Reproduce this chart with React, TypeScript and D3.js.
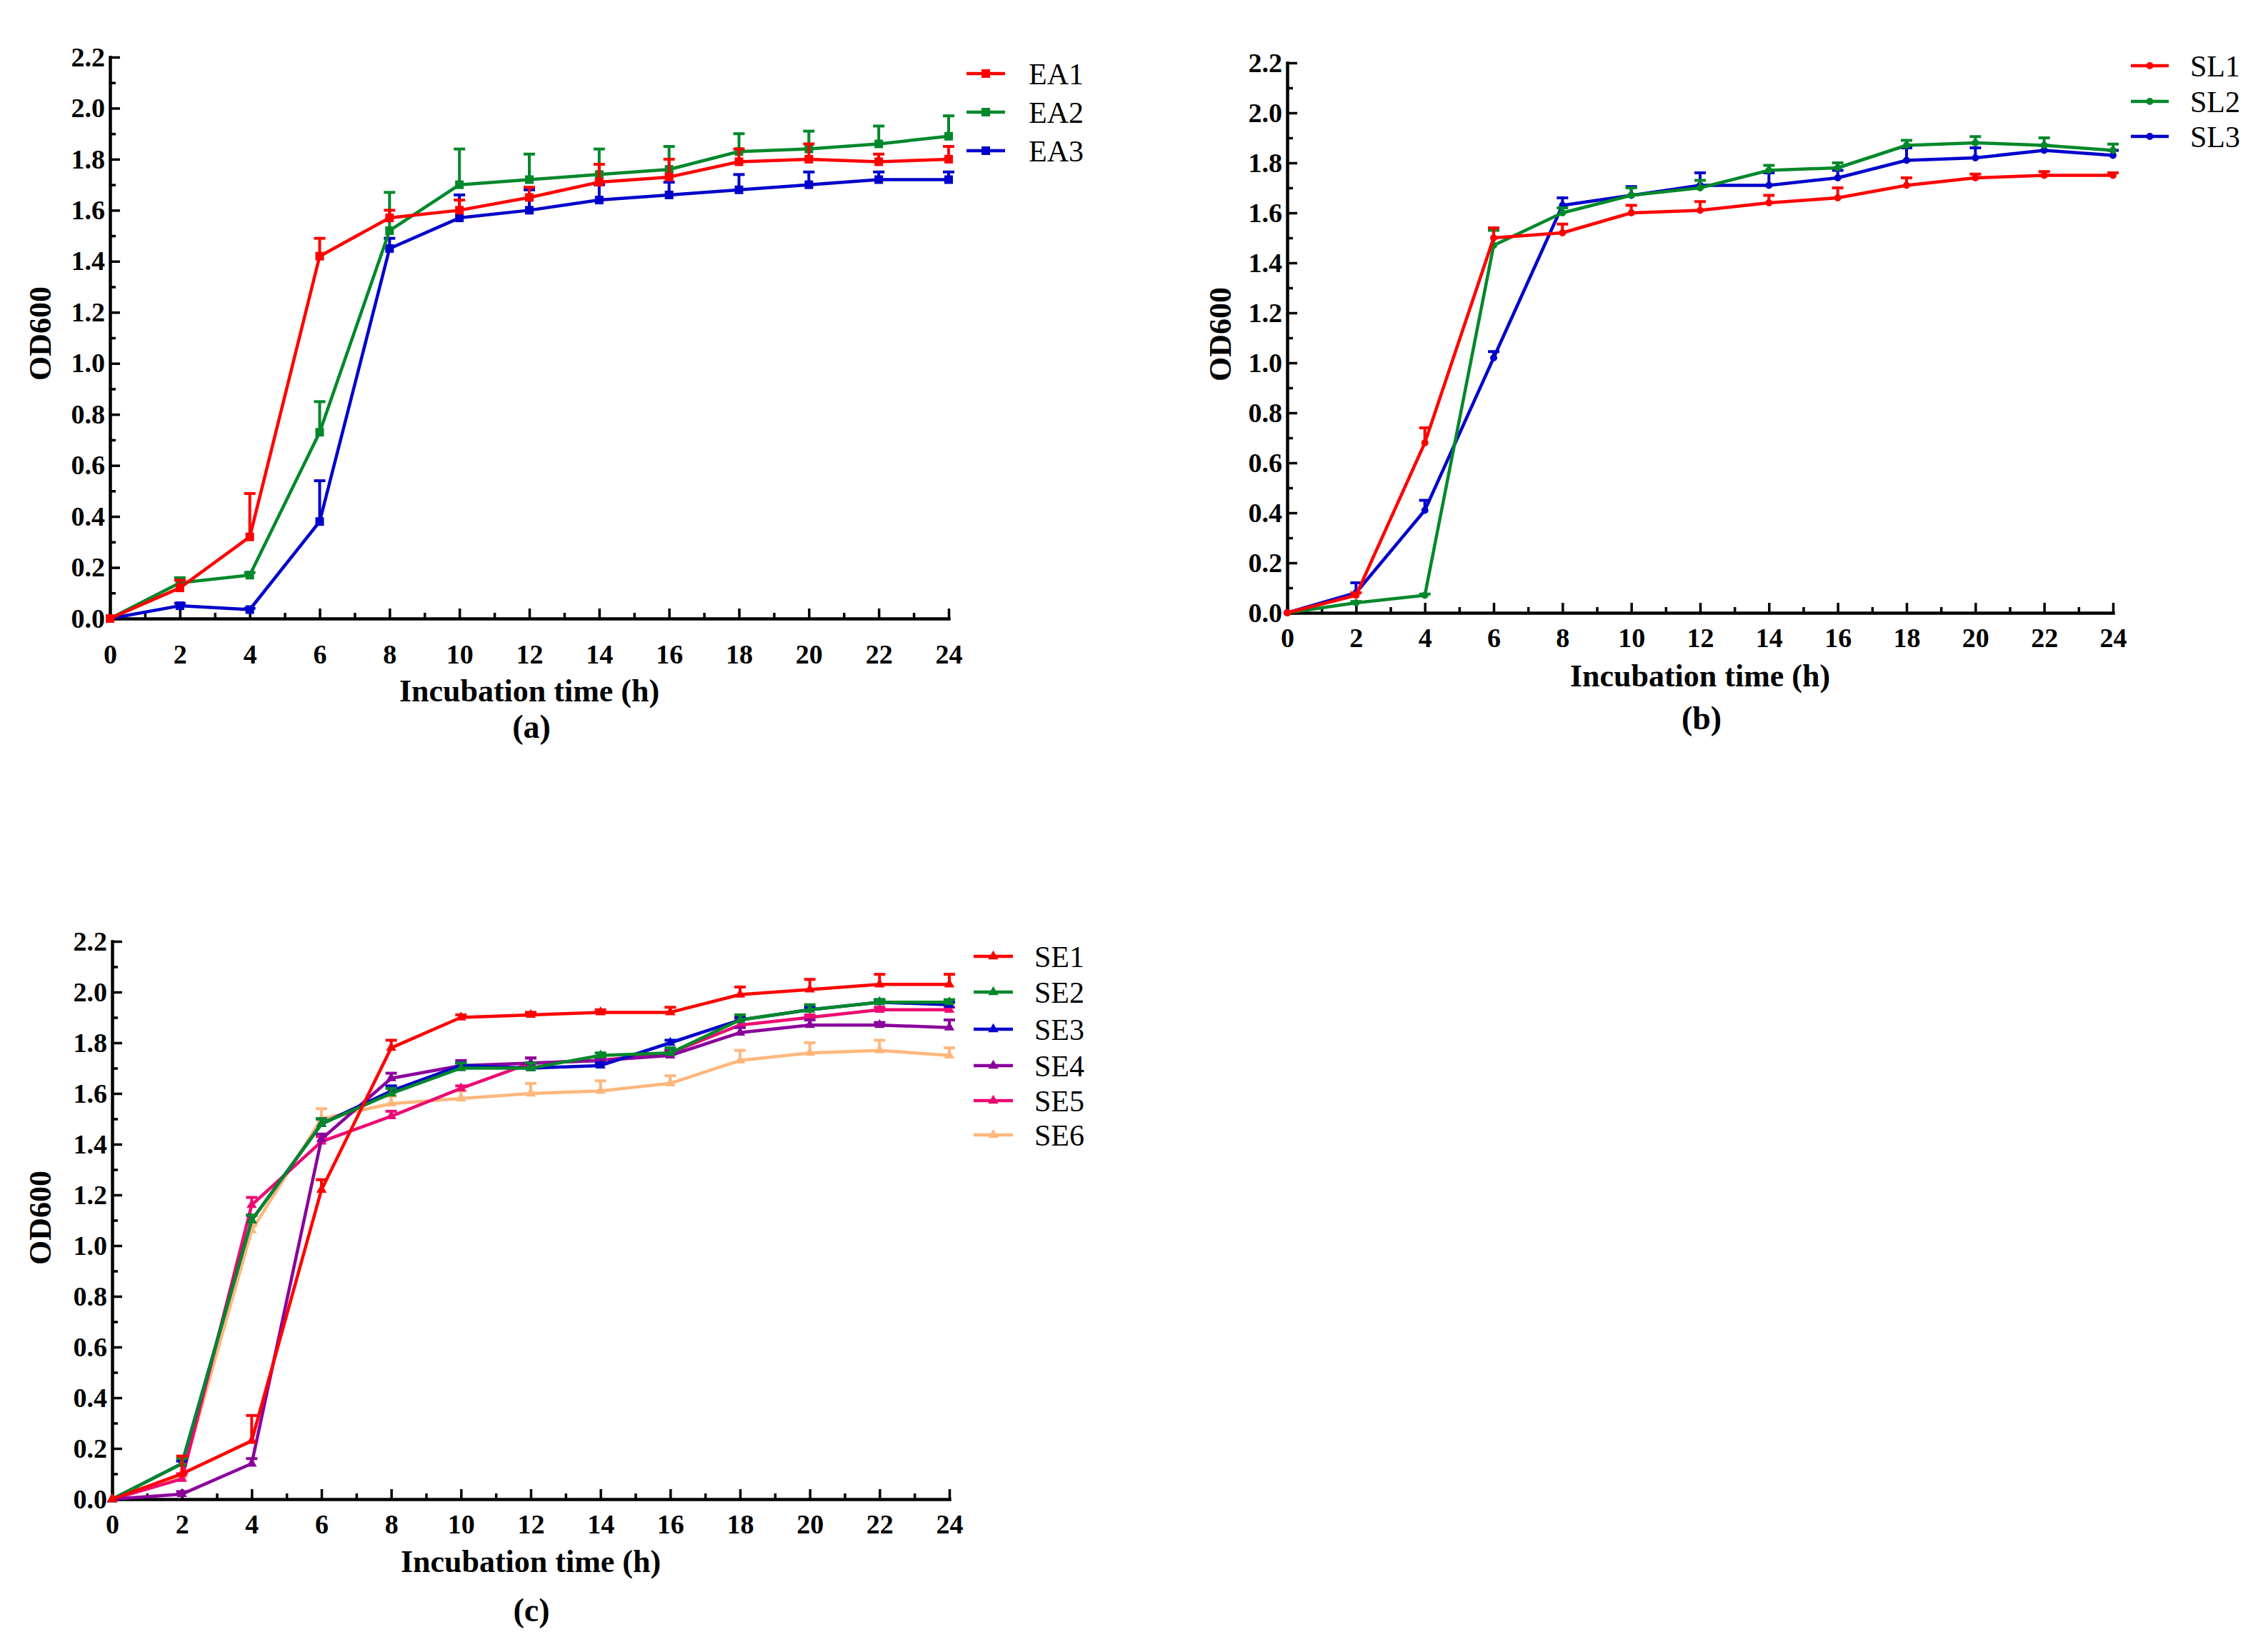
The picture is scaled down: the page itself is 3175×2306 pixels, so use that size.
import { useEffect, useRef } from "react"
import * as d3 from "d3"

// shared axes
const hours = [0, 2, 4, 6, 8, 10, 12, 14, 16, 18, 20, 22, 24]
const hourMinor = [1, 3, 5, 7, 9, 11, 13, 15, 17, 19, 21, 23]
const odTicks = [0, 0.2, 0.4, 0.6, 0.8, 1.0, 1.2, 1.4, 1.6, 1.8, 2.0, 2.2]
const odMinor = [0.1, 0.3, 0.5, 0.7, 0.9, 1.1, 1.3, 1.5, 1.7, 1.9, 2.1]

// panel (a)
const ea1 = [0, 0.12, 0.32, 1.42, 1.57, 1.6, 1.65, 1.71, 1.73, 1.79, 1.8, 1.79, 1.8]
const ea1Err = [0, 0.03, 0.17, 0.07, 0.03, 0.04, 0.04, 0.07, 0.07, 0.05, 0.06, 0.03, 0.05]
const ea2 = [0, 0.14, 0.17, 0.73, 1.52, 1.7, 1.72, 1.74, 1.76, 1.83, 1.84, 1.86, 1.89]
const ea2Err = [0, 0.02, 0.01, 0.12, 0.15, 0.14, 0.1, 0.1, 0.09, 0.07, 0.07, 0.07, 0.08]
const ea3 = [0, 0.05, 0.035, 0.38, 1.45, 1.57, 1.6, 1.64, 1.66, 1.68, 1.7, 1.72, 1.72]
const ea3Err = [0, 0.01, 0.005, 0.16, 0.04, 0.09, 0.08, 0.06, 0.05, 0.06, 0.05, 0.03, 0.03]

// panel (b)
const sl1 = [0, 0.07, 0.68, 1.5, 1.52, 1.6, 1.61, 1.64, 1.66, 1.71, 1.74, 1.75, 1.75]
const sl1Err = [0, 0.01, 0.06, 0.04, 0.035, 0.03, 0.035, 0.03, 0.04, 0.03, 0.015, 0.015, 0.01]
const sl2 = [0, 0.04, 0.07, 1.47, 1.6, 1.67, 1.7, 1.77, 1.78, 1.87, 1.88, 1.87, 1.85]
const sl2Err = [0, 0.005, 0.005, 0.06, 0.02, 0.03, 0.03, 0.02, 0.02, 0.02, 0.025, 0.03, 0.025]
const sl3 = [0, 0.08, 0.41, 1.02, 1.63, 1.67, 1.71, 1.71, 1.74, 1.81, 1.82, 1.85, 1.83]
const sl3Err = [0, 0.04, 0.04, 0.025, 0.03, 0.035, 0.05, 0.05, 0.03, 0.05, 0.04, 0.02, 0.02]

// panel (c)
const se1 = [0, 0.1, 0.23, 1.22, 1.78, 1.9, 1.91, 1.92, 1.92, 1.99, 2.01, 2.03, 2.03]
const se1Err = [0, 0.07, 0.1, 0.04, 0.03, 0.01, 0.01, 0.01, 0.02, 0.03, 0.04, 0.04, 0.04]
const se2 = [0, 0.14, 1.1, 1.48, 1.6, 1.7, 1.7, 1.75, 1.76, 1.89, 1.93, 1.96, 1.96]
const se2Err = [0, 0.02, 0.02, 0.02, 0.02, 0.02, 0.02, 0.01, 0.02, 0.02, 0.02, 0.01, 0.01]
const se3 = [0, 0.14, 1.1, 1.48, 1.61, 1.71, 1.7, 1.71, 1.8, 1.89, 1.93, 1.96, 1.95]
const se3Err = [0, 0.01, 0.02, 0.02, 0.02, 0.01, 0.02, 0.01, 0.01, 0.01, 0.01, 0.01, 0.01]
const se4 = [0, 0.02, 0.14, 1.42, 1.66, 1.71, 1.72, 1.73, 1.75, 1.84, 1.87, 1.87, 1.86]
const se4Err = [0, 0.01, 0.02, 0.02, 0.02, 0.02, 0.02, 0.01, 0.02, 0.02, 0.02, 0.01, 0.03]
const se5 = [0, 0.08, 1.16, 1.41, 1.51, 1.62, 1.72, 1.73, 1.76, 1.87, 1.9, 1.93, 1.93]
const se5Err = [0, 0.02, 0.03, 0.02, 0.02, 0.01, 0.02, 0.01, 0.01, 0.02, 0.01, 0.01, 0.01]
const se6 = [0, 0.09, 1.06, 1.5, 1.56, 1.58, 1.6, 1.61, 1.64, 1.73, 1.76, 1.77, 1.75]
const se6Err = [0, 0.01, 0.02, 0.04, 0.03, 0.03, 0.04, 0.04, 0.03, 0.04, 0.04, 0.04, 0.03]

const RED = "#ff0000"
const GREEN = "#00882a"
const BLUE = "#0000cc"
const PURPLE = "#8b009c"
const PINK = "#ee0a72"
const ORANGE = "#ffb77c"

const SERIF = "'Liberation Serif', 'Times New Roman', serif"

type Series = { name: string; color: string; values: number[]; errors: number[] }
type Marker = "square" | "circle" | "triangle"

interface Panel {
  label: string
  marker: Marker
  xRange: [number, number]
  yRange: [number, number]
  xTickPad: number
  series: Series[]
  legend: { x1: number; x2: number; tx: number; ys: number[] }
  xTitleY: number
  labelX: number
  labelY: number
  yTitle: [number, number]
}

const panels: Panel[] = [
  {
    label: "(a)",
    marker: "square",
    xRange: [154, 1328],
    yRange: [866, 80],
    xTickPad: 36,
    series: [
      { name: "EA1", color: RED, values: ea1, errors: ea1Err },
      { name: "EA2", color: GREEN, values: ea2, errors: ea2Err },
      { name: "EA3", color: BLUE, values: ea3, errors: ea3Err },
    ],
    legend: { x1: 1353, x2: 1407, tx: 1440, ys: [103, 157, 211] },
    xTitleY: 967,
    labelX: 744,
    labelY: 1017,
    yTitle: [56, 467],
  },
  {
    label: "(b)",
    marker: "circle",
    xRange: [1802, 2958],
    yRange: [858, 88],
    xTickPad: 21,
    series: [
      { name: "SL1", color: RED, values: sl1, errors: sl1Err },
      { name: "SL2", color: GREEN, values: sl2, errors: sl2Err },
      { name: "SL3", color: BLUE, values: sl3, errors: sl3Err },
    ],
    legend: { x1: 2983, x2: 3036, tx: 3066, ys: [92, 142, 191] },
    xTitleY: 946,
    labelX: 2382,
    labelY: 1005,
    yTitle: [1708, 468],
  },
  {
    label: "(c)",
    marker: "triangle",
    xRange: [157, 1329],
    yRange: [2099, 1318],
    xTickPad: 21,
    series: [
      { name: "SE1", color: RED, values: se1, errors: se1Err },
      { name: "SE2", color: GREEN, values: se2, errors: se2Err },
      { name: "SE3", color: BLUE, values: se3, errors: se3Err },
      { name: "SE4", color: PURPLE, values: se4, errors: se4Err },
      { name: "SE5", color: PINK, values: se5, errors: se5Err },
      { name: "SE6", color: ORANGE, values: se6, errors: se6Err },
    ],
    legend: { x1: 1363, x2: 1418, tx: 1448, ys: [1339, 1389, 1441, 1492, 1541, 1589] },
    xTitleY: 2186,
    labelX: 744,
    labelY: 2254,
    yTitle: [56, 1705],
  },
]

function drawMarker(g: d3.Selection<SVGGElement, unknown, null, undefined>, kind: Marker, cx: number, cy: number, color: string) {
  if (kind === "square") {
    g.append("rect").attr("x", cx - 6).attr("y", cy - 6).attr("width", 12).attr("height", 12).attr("fill", color)
  } else if (kind === "circle") {
    g.append("circle").attr("cx", cx).attr("cy", cy).attr("r", 5).attr("fill", color)
  } else {
    g.append("path")
      .attr("d", d3.symbol(d3.symbolTriangle, 90)())
      .attr("transform", `translate(${cx},${cy})`)
      .attr("fill", color)
  }
}

export default function App() {
  const svgRef = useRef<SVGSVGElement>(null)

  useEffect(() => {
    if (!svgRef.current) return
    const svg = d3.select(svgRef.current)
    svg.selectAll("*").remove()

    panels.forEach((p) => {
      const x = d3.scaleLinear().domain([0, 24]).range(p.xRange)
      const y = d3.scaleLinear().domain([0, 2.2]).range(p.yRange)
      const root = svg.append("g")

      // minor ticks
      root
        .append("g")
        .attr("transform", `translate(${p.xRange[0]},0)`)
        .call(d3.axisLeft(y).tickValues(odMinor).tickSize(-8).tickFormat(() => ""))
        .call((g) => g.select(".domain").remove())
        .selectAll("line")
        .attr("stroke-width", 3.5)
      root
        .append("g")
        .attr("transform", `translate(0,${p.yRange[0]})`)
        .call(d3.axisBottom(x).tickValues(hourMinor).tickSize(-8).tickFormat(() => ""))
        .call((g) => g.select(".domain").remove())
        .selectAll("line")
        .attr("stroke-width", 3.5)

      // Y axis
      const yAxis = root
        .append("g")
        .attr("transform", `translate(${p.xRange[0]},0)`)
        .call(
          d3
            .axisLeft(y)
            .tickValues(odTicks)
            .tickSizeInner(-14)
            .tickSizeOuter(0)
            .tickPadding(7)
            .tickFormat(d3.format(".1f")),
        )
        .attr("font-family", SERIF)
        .attr("font-size", 38)
        .attr("font-weight", "bold")
      yAxis.select(".domain").attr("stroke-width", 4.5).attr("stroke-linecap", "square")
      yAxis.selectAll(".tick line").attr("stroke-width", 3.5)
      yAxis.selectAll("text").attr("fill", "#000")

      // X axis
      const xAxis = root
        .append("g")
        .attr("transform", `translate(0,${p.yRange[0]})`)
        .call(d3.axisBottom(x).tickValues(hours).tickSizeInner(-14).tickSizeOuter(0).tickPadding(p.xTickPad))
        .attr("font-family", SERIF)
        .attr("font-size", 38)
        .attr("font-weight", "bold")
      xAxis.select(".domain").attr("stroke-width", 4.5).attr("stroke-linecap", "square")
      xAxis.selectAll(".tick line").attr("stroke-width", 3.5)
      xAxis.selectAll("text").attr("fill", "#000")

      // series, drawn last-first so the first legend entry sits on top
      const line = d3
        .line<number>()
        .x((_, i) => x(hours[i]))
        .y((d) => y(d))

      ;[...p.series].reverse().forEach((s) => {
        const sg = root.append("g")
        sg.append("path")
          .datum(s.values)
          .attr("fill", "none")
          .attr("stroke", s.color)
          .attr("stroke-width", 4.5)
          .attr("stroke-linejoin", "round")
          .attr("d", line)

        s.values.forEach((v, i) => {
          const e = s.errors[i]
          const cx = x(hours[i])
          if (e > 0.004) {
            sg.append("line")
              .attr("x1", cx)
              .attr("x2", cx)
              .attr("y1", y(v))
              .attr("y2", y(v + e))
              .attr("stroke", s.color)
              .attr("stroke-width", 4)
            sg.append("line")
              .attr("x1", cx - 8)
              .attr("x2", cx + 8)
              .attr("y1", y(v + e))
              .attr("y2", y(v + e))
              .attr("stroke", s.color)
              .attr("stroke-width", 4)
          }
          drawMarker(sg, p.marker, cx, y(v), s.color)
        })
      })

      // legend
      p.series.forEach((s, i) => {
        const ly = p.legend.ys[i]
        const lg = root.append("g")
        lg.append("line")
          .attr("x1", p.legend.x1)
          .attr("x2", p.legend.x2)
          .attr("y1", ly)
          .attr("y2", ly)
          .attr("stroke", s.color)
          .attr("stroke-width", 4.5)
        drawMarker(lg, p.marker, (p.legend.x1 + p.legend.x2) / 2, ly, s.color)
        lg.append("text")
          .attr("x", p.legend.tx)
          .attr("y", ly)
          .attr("dy", "0.35em")
          .attr("font-family", SERIF)
          .attr("font-size", 42)
          .attr("fill", "#000")
          .text(s.name)
      })

      // titles
      root
        .append("text")
        .attr("x", (p.xRange[0] + p.xRange[1]) / 2)
        .attr("y", p.xTitleY)
        .attr("dy", "0.35em")
        .attr("text-anchor", "middle")
        .attr("font-family", SERIF)
        .attr("font-size", 44)
        .attr("font-weight", "bold")
        .text("Incubation time (h)")

      root
        .append("text")
        .attr("transform", `translate(${p.yTitle[0]},${p.yTitle[1]}) rotate(-90)`)
        .attr("dy", "0.35em")
        .attr("text-anchor", "middle")
        .attr("font-family", SERIF)
        .attr("font-size", 44)
        .attr("font-weight", "bold")
        .text("OD600")

      root
        .append("text")
        .attr("x", p.labelX)
        .attr("y", p.labelY)
        .attr("dy", "0.35em")
        .attr("text-anchor", "middle")
        .attr("font-family", SERIF)
        .attr("font-size", 46)
        .attr("font-weight", "bold")
        .text(p.label)
    })
  }, [])

  return (
    <div style={{ position: "absolute", left: 0, top: 0, background: "#fff" }}>
      <svg ref={svgRef} width={3175} height={2306} style={{ display: "block" }} />
    </div>
  )
}
